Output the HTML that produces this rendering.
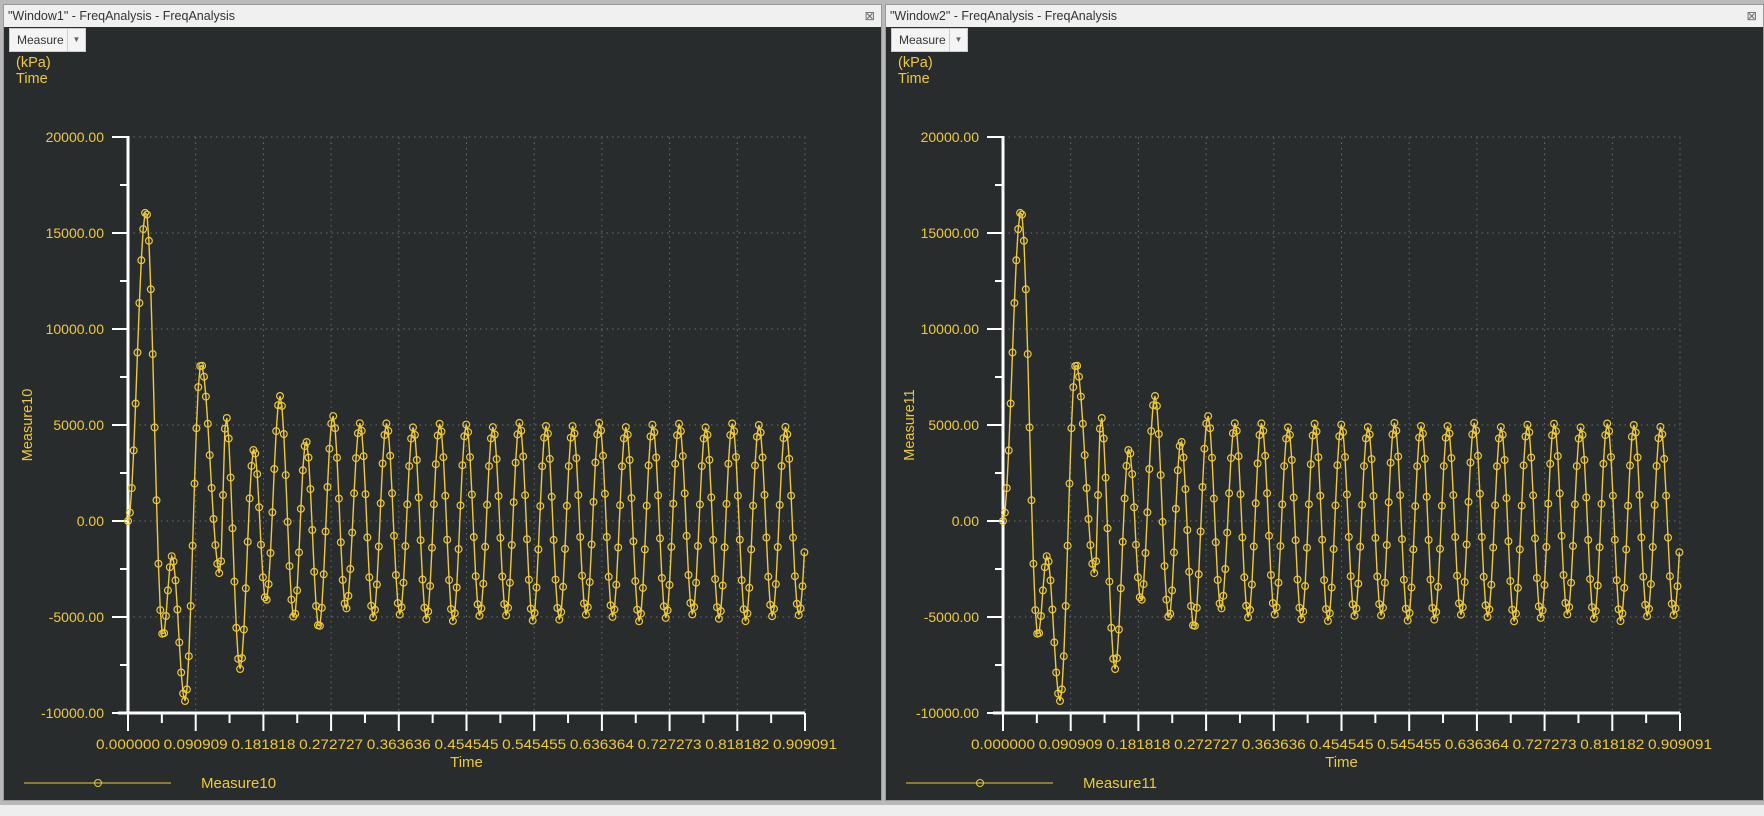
<!DOCTYPE html>
<html><head><meta charset="utf-8"><style>
body{margin:0;width:1764px;height:816px;background:#b9b9b9;overflow:hidden;font-family:"Liberation Sans",sans-serif;position:relative}
.bot{position:absolute;left:0;top:805px;width:1764px;height:11px;background:#eeeeee}
.win{position:absolute;top:4px;width:877px;height:795px;background:#282c2d;border:1px solid #999}
.tb{position:absolute;left:0;top:0;right:0;height:22px;background:#f0f0f0;font-size:12.5px;color:#333;line-height:22px;padding-left:4px}
.tb .x{position:absolute;right:6px;top:0;color:#666}
.btn{position:absolute;left:5px;top:23px;width:75px;height:22px;background:#f4f4f4;border:1px solid #ccc;font-size:12px;color:#333;line-height:22px}
.btn span{padding-left:7px}
.btn i{position:absolute;left:57px;top:0;width:17px;height:22px;border-left:1px solid #ccc;font-style:normal;font-size:8px;text-align:center;color:#666}
svg{position:absolute;left:0;top:0}
</style></head><body>
<div class="bot"></div>
<div class="win" style="left:3px"><div class="tb">"Window1" - FreqAnalysis - FreqAnalysis<span class="x">⊠</span></div><div class="btn"><span>Measure</span><i>▼</i></div><svg id="s1" width="877" height="795"></svg></div>
<div class="win" style="left:885px"><div class="tb">"Window2" - FreqAnalysis - FreqAnalysis<span class="x">⊠</span></div><div class="btn"><span>Measure</span><i>▼</i></div><svg id="s2" width="877" height="795"></svg></div>
<script>
var K=[[127,0],[145,16146],[162,-5990],[171,-1823],[184,-9375],[200,8177],[219,-2760],[225,5469],[239,-7708],[253,3750],[265,-4167],[279,6510],[293,-5052],[305,4167],[318,-5573],[332,5469],[345,-4583],[359,5100]];
for(var k=1;k<=17;k++){var x=359+26.6*k;K.push([x-13.3,-5050-180*Math.cos(k*1.7)]);if(k<17)K.push([x,5000+120*Math.sin(k*2.3)]);}
K.push([812,5000]);
function val(x){for(var i=0;i<K.length-1;i++){if(x<=K[i+1][0]){var a=K[i],b=K[i+1],f=(x-a[0])/(b[0]-a[0]);return a[1]+(b[1]-a[1])*(1-Math.cos(Math.PI*f))/2;}}return 0;}
function build(id,name,sh){
var s=document.getElementById(id),h='';
var C='#efc93c',ox=3-sh;
var X0=127-ox,X1=804-ox,Y0=136-4,Y1=712-4;
function py(v){return Y0+(20000-v)/30000*(Y1-Y0);}
for(var i=1;i<=10;i++){var x=X0+i*(X1-X0)/10;h+='<line x1="'+x+'" y1="'+Y0+'" x2="'+x+'" y2="'+Y1+'" stroke="#6a6e70" stroke-dasharray="1.5,4"/>';}
for(var v=-5000;v<=20000;v+=5000){var y=py(v);h+='<line x1="'+X0+'" y1="'+y+'" x2="'+X1+'" y2="'+y+'" stroke="#6a6e70" stroke-dasharray="1.5,4"/>';}
h+='<line x1="'+X0+'" y1="'+(Y0-1)+'" x2="'+X0+'" y2="'+(Y1+1)+'" stroke="#fff" stroke-width="3"/>';
h+='<line x1="'+(X0-10)+'" y1="'+Y1+'" x2="'+X1+'" y2="'+Y1+'" stroke="#fff" stroke-width="3"/>';
for(var v=-10000;v<=20000;v+=2500){var y=py(v),maj=v%5000==0;h+='<line x1="'+(X0-(maj?16:8))+'" y1="'+y+'" x2="'+X0+'" y2="'+y+'" stroke="#fff" stroke-width="2"/>';
if(maj)h+='<text x="'+(X0-24)+'" y="'+(y+5)+'" text-anchor="end" font-size="14" fill="'+C+'">'+(v.toFixed(2))+'</text>';}
for(var i=0;i<=20;i++){var x=X0+i*(X1-X0)/20,maj=i%2==0;h+='<line x1="'+x+'" y1="'+Y1+'" x2="'+x+'" y2="'+(Y1+(maj?18:10))+'" stroke="#fff" stroke-width="2"/>';
if(maj)h+='<text x="'+x+'" y="'+(Y1+36)+'" text-anchor="middle" font-size="14" fill="'+C+'" textLength="64" lengthAdjust="spacingAndGlyphs">'+(i/20*0.909091).toFixed(6)+'</text>';}
h+='<text x="'+((X0+X1)/2)+'" y="'+(Y1+54)+'" text-anchor="middle" font-size="15" fill="'+C+'">Time</text>';
h+='<text x="12" y="62" font-size="14.5" fill="'+C+'">(kPa)</text><text x="12" y="78" font-size="14.5" fill="'+C+'">Time</text>';
h+='<text transform="translate(28,'+((Y0+Y1)/2)+') rotate(-90)" text-anchor="middle" font-size="14.5" fill="'+C+'">'+name+'</text>';
h+='<line x1="20" y1="778" x2="167" y2="778" stroke="'+C+'"/><circle cx="94" cy="778" r="3.5" fill="none" stroke="'+C+'"/>';
h+='<text x="197" y="783" font-size="15" fill="'+C+'">'+name+'</text>';
var pts=[],d='';
for(var x=127;x<=804.01;x+=1.9){pts.push([x-ox,py(val(x))]);}
pts.forEach(function(p,i){d+=(i?'L':'M')+p[0].toFixed(1)+' '+p[1].toFixed(1);});
h+='<path d="'+d+'" fill="none" stroke="'+C+'" stroke-width="1.4"/>';
pts.forEach(function(p){h+='<circle cx="'+p[0].toFixed(1)+'" cy="'+p[1].toFixed(1)+'" r="3.4" fill="none" stroke="'+C+'" stroke-width="1.2"/>';});
s.innerHTML=h;}
build('s1','Measure10',0);build('s2','Measure11',-7);
</script>
</body></html>
